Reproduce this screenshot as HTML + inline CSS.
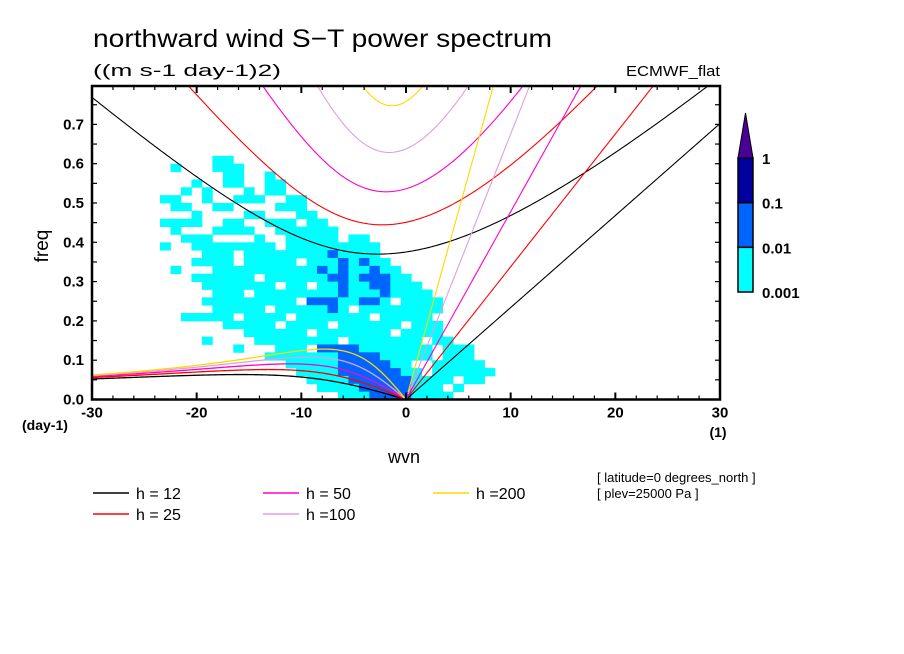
<!DOCTYPE html>
<html><head><meta charset="utf-8">
<style>
html,body{margin:0;padding:0;background:#fff;}
svg{display:block;font-family:"Liberation Sans",sans-serif;}
</style></head>
<body>
<svg id="chart" width="904" height="654" viewBox="0 0 904 654">
  <defs><clipPath id="plotclip"><rect x="92" y="86" width="628" height="313.5"/></clipPath></defs>
  <text x="93" y="47" font-size="25" textLength="459" lengthAdjust="spacingAndGlyphs">northward wind S−T power spectrum</text>
  <text x="93" y="76" font-size="17" textLength="188" lengthAdjust="spacingAndGlyphs">((m s-1 day-1)2)</text>
  <text x="720" y="76" font-size="15" text-anchor="end" textLength="94" lengthAdjust="spacingAndGlyphs">ECMWF_flat</text>
  <g id="heat" clip-path="url(#plotclip)"></g>
  <g id="curves" clip-path="url(#plotclip)"></g>
  <g id="axes"></g>
  <text x="48" y="246" font-size="19" text-anchor="middle" transform="rotate(-90 48 246)">freq</text>
  <text x="404" y="463" font-size="18" text-anchor="middle">wvn</text>
  <text x="22" y="430" font-size="14" font-weight="bold">(day-1)</text>
  <text x="718" y="437" font-size="14" font-weight="bold" text-anchor="middle">(1)</text>
  <text x="597" y="482" font-size="13">[ latitude=0 degrees_north ]</text>
  <text x="597" y="498" font-size="13">[ plev=25000 Pa ]</text>
  <g id="legend"></g>
  <g id="cbar"></g>
</svg>
<script>
// ---- data ----
const depths = [12, 25, 50, 100, 200];
const depthColors = ["#000000", "#ff0000", "#ff00c8", "#dda0dd", "#ffd700"];
const legendLabels = ["h = 12", "h = 25", "h = 50", "h =100", "h =200"];
const xTicks = [-30, -20, -10, 0, 10, 20, 30];
const xTickLabels = ["-30", "-20", "-10", "0", "10", "20", "30"];
const yTicks = [0, 0.1, 0.2, 0.3, 0.4, 0.5, 0.6, 0.7];
const yTickLabels = ["0.0", "0.1", "0.2", "0.3", "0.4", "0.5", "0.6", "0.7"];
const cbarLabels = ["0.001", "0.01", "0.1", "1"];
const cbarColors = ["#00ffff", "#0064ff", "#0000a0", "#4b0096"];
// heatmap: rows top (f 0.60-0.62) to bottom (0.00-0.02); columns wvn -24..10; '.'=none,'1'=cyan,'2'=blue
const heatStartWvn = -24;
const heatTopFreq = 0.62;
const heatDf = 0.02;
const heatRows = [
"......11",
"..1...111",
".......11..1",
"....1..11..11",
"...1.1...1.11",
".11..1..111..11",
"..11..11....111",
"....1....11...11",
".1111..11..111.11",
"..1...1111..111111",
"...111....1..11111.11",
".1..11111111.111111111",
".....111.1111111121111",
"....1111.11111.11121211",
"..1...111111111121211211",
"....111111.11111122122211",
".....1111111.11.1121122111",
"......111.11111111211121111",
".....111111111.22211221.1111",
"......11111.1111121.11111111",
"...11111.1111.1111111.11111",
".......11111.1111.111111.111",
".........111111.1111111.1111",
".....1....11111111.1111111.11",
"........1...111.22221111111.111",
"...........1111111222211111.111",
".............111112222211..11111",
"..............111122222211.111111",
"...............11112222221111.11",
"................111122222111.1",
"..................11122221111"
];

// ---- axis functions ----
const X0 = 92, X1 = 720, Y0 = 399.5, FS = 393;
function X(s){ return X0 + (s + 30) * (X1 - X0) / 60; }
function Y(f){ return Y0 - f * FS; }
const NS = "http://www.w3.org/2000/svg";
function mk(tag, attrs, parent){ const e = document.createElementNS(NS, tag); for (const k in attrs) e.setAttribute(k, attrs[k]); parent.appendChild(e); return e; }

// heatmap
const heat = document.getElementById("heat");
const heatColor = {"1": "#00ffff", "2": "#0064ff", "3": "#0000a0"};
heatRows.forEach((row, r) => {
  for (let i = 0; i < row.length; i++) {
    const ch = row[i];
    if (ch === ".") continue;
    const s = heatStartWvn + i;
    const fTop = heatTopFreq - r * heatDf;
    const c = mk("rect", {x: X(s - 0.5), y: Y(fTop), width: X(s + 0.5) - X(s - 0.5) + 0.4, height: Y(fTop - heatDf) - Y(fTop) + 0.4, fill: heatColor[ch]}, heat);
    
    
  }
});

// dispersion curves (equatorial waves, n=1 and Kelvin)
const beta = 2.29e-11, grav = 9.8, aE = 6.371e6, toCpd = 86400 / (2 * Math.PI);
function roots(K, c){
  const A = K*K*c*c + 3*beta*c;
  const p = -A, q = -beta*K*c*c;
  const m = 2*Math.sqrt(-p/3);
  let arg = (3*q/(2*p))*Math.sqrt(-3/p);
  arg = Math.max(-1, Math.min(1, arg));
  const th = Math.acos(arg)/3;
  return [0,1,2].map(k => m*Math.cos(th - 2*Math.PI*k/3)).sort((a,b)=>b-a);
}
const curves = document.getElementById("curves");
depths.forEach((h, j) => {
  const c = Math.sqrt(grav*h);
  const col = depthColors[j];
  let ig = [], er = [], kv = [];
  for (let s = -30; s <= 30.001; s += 0.2) {
    const K = s / aE;
    const r = roots(K, c);
    ig.push([s, r[0]*toCpd]);
    if (s < 0) er.push([s, r[1]*toCpd]);
    if (s >= 0) kv.push([s, K*c*toCpd]);
  }
  er.push([0, 0]);
  const toPts = arr => arr.map(p => X(p[0]).toFixed(2) + "," + Y(p[1]).toFixed(2)).join(" ");
  const a = mk("polyline", {points: toPts(ig), fill: "none", stroke: col, "stroke-width": 1.1}, curves);
  
  
  const b = mk("polyline", {points: toPts(er), fill: "none", stroke: col, "stroke-width": 1.3}, curves);
  
  
  const k = mk("polyline", {points: toPts(kv), fill: "none", stroke: col, "stroke-width": 1.1}, curves);
  
  
});

// axes
const axes = document.getElementById("axes");
const frame = mk("rect", {x: X0, y: 86, width: X1 - X0, height: Y0 - 86, fill: "none", stroke: "#000", "stroke-width": 2.5}, axes);


for (let s = -30; s <= 30; s += 2) {
  const major = (s % 10 === 0);
  const L = major ? 7 : 4;
  mk("line", {x1: X(s), x2: X(s), y1: Y0, y2: Y0 - L, stroke: "#000", "stroke-width": major ? 2 : 1.2}, axes);
  mk("line", {x1: X(s), x2: X(s), y1: 86, y2: 86 + L, stroke: "#000", "stroke-width": major ? 2 : 1.2}, axes);
}
for (let i = 0; i <= 16; i++) {
  const f = i * 0.05;
  if (Y(f) < 86) continue;
  mk("line", {x1: X0, x2: X0 + 5, y1: Y(f), y2: Y(f), stroke: "#000", "stroke-width": 1.2}, axes);
  mk("line", {x1: X1, x2: X1 - 5, y1: Y(f), y2: Y(f), stroke: "#000", "stroke-width": 1.2}, axes);
}
xTicks.forEach((s, i) => {
  const t = mk("text", {x: X(s), y: Y0 + 18, "font-size": 15, "font-weight": "bold", "text-anchor": "middle"}, axes);
  t.textContent = xTickLabels[i];
  
  
});
yTicks.forEach((f, i) => {
  const t = mk("text", {x: 84, y: Y(f) + 5, "font-size": 15, "font-weight": "bold", "text-anchor": "end"}, axes);
  t.textContent = yTickLabels[i];
  
  
});

// legend
const legend = document.getElementById("legend");
const legPos = [[93, 493], [93, 514], [263, 493], [263, 514], [433, 493]];
depths.forEach((h, j) => {
  const [lx, ly] = legPos[j];
  const ln = mk("line", {x1: lx, x2: lx + 36, y1: ly, y2: ly, stroke: depthColors[j], "stroke-width": 1.5}, legend);
  
  
  const t = mk("text", {x: lx + 43, y: ly + 6, "font-size": 16}, legend);
  t.textContent = legendLabels[j];
  
  
});

// colorbar
const cb = document.getElementById("cbar");
const cbX = 738, cbW = 15, segH = 44.7, cbBottom = 292;
for (let i = 0; i < 3; i++) {
  const r = mk("rect", {x: cbX, y: cbBottom - (i + 1) * segH, width: cbW, height: segH, fill: cbarColors[i], stroke: "#000", "stroke-width": 1.5}, cb);
  
  
}
const topY = cbBottom - 3 * segH;
const tri = mk("polygon", {points: `${cbX},${topY} ${cbX + cbW},${topY} ${cbX + cbW / 2},${topY - 45}`, fill: cbarColors[3], stroke: "#000", "stroke-width": 1}, cb);


cbarLabels.forEach((lab, i) => {
  const t = mk("text", {x: 762, y: cbBottom - i * segH + 6, "font-size": 15, "font-weight": "bold"}, cb);
  t.textContent = lab;
  
  
});
</script>
</body></html>
